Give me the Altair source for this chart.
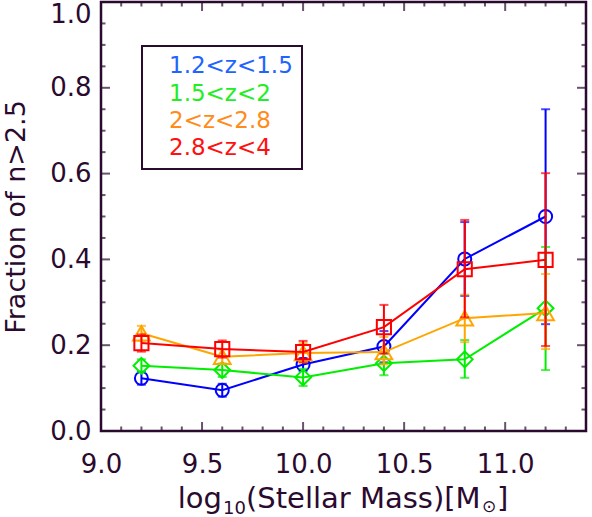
import altair as alt
import pandas as pd

# ---- data ----
mass = [9.2, 9.6, 10.0, 10.4, 10.8, 11.2]
labels = ["1.2<z<1.5", "1.5<z<2", "2<z<2.8", "2.8<z<4"]

frac_a = [0.123, 0.095, 0.155, 0.197, 0.401, 0.500]
lo_a = [0.108, 0.080, 0.140, 0.160, 0.315, 0.249]
hi_a = [0.138, 0.110, 0.170, 0.233, 0.487, 0.750]

frac_b = [0.152, 0.142, 0.125, 0.158, 0.167, 0.286]
lo_b = [0.137, 0.126, 0.105, 0.130, 0.124, 0.142]
hi_b = [0.167, 0.157, 0.145, 0.183, 0.212, 0.429]

frac_c = [0.228, 0.173, 0.182, 0.184, 0.263, 0.275]
lo_c = [0.210, 0.157, 0.160, 0.155, 0.207, 0.191]
hi_c = [0.245, 0.190, 0.205, 0.219, 0.318, 0.366]

frac_d = [0.205, 0.191, 0.184, 0.242, 0.377, 0.399]
lo_d = [0.185, 0.171, 0.160, 0.180, 0.265, 0.198]
hi_d = [0.225, 0.211, 0.210, 0.294, 0.492, 0.601]

x_major = [9.0, 9.5, 10.0, 10.5, 11.0]
x_minor = [9.1, 9.2, 9.3, 9.4, 9.6, 9.7, 9.8, 9.9, 10.1, 10.2, 10.3, 10.4,
           10.6, 10.7, 10.8, 10.9, 11.1, 11.2, 11.3]
y_major = [0.0, 0.2, 0.4, 0.6, 0.8, 1.0]
y_minor = [0.05, 0.1, 0.15, 0.25, 0.3, 0.35, 0.45, 0.5, 0.55, 0.65, 0.7,
           0.75, 0.85, 0.9, 0.95]

x_title_parts = ["log", "10", "(Stellar Mass)[M", "⊙", "]"]
y_title = "Fraction of n>2.5"

# ---- styles ----
FRAME = "#2a0a2e"
FONT = "DejaVu Sans"
mark_colors = ["#0000ff", "#00ee00", "#ffa500", "#ff0000"]
text_colors = ["#1e64ff", "#22ee22", "#ff8c1a", "#ff1010"]
shapes = ["circle", "diamond", "triangle-up", "square"]
sizes = [170, 250, 280, 200]

xs = alt.Scale(domain=[9.0, 11.4], nice=False, zero=False)
ys = alt.Scale(domain=[0.0, 1.0], nice=False, zero=False)

series = [
    (frac_a, lo_a, hi_a),
    (frac_b, lo_b, hi_b),
    (frac_c, lo_c, hi_c),
    (frac_d, lo_d, hi_d),
]

layers = []

# axes carrier (labels + y title)
axis_df = pd.DataFrame({"m": mass, "f": frac_a})
base_axes = alt.Chart(axis_df).mark_point(opacity=0).encode(
    x=alt.X("m:Q", scale=xs,
            axis=alt.Axis(values=x_major, format=".1f", grid=False, domain=False,
                          ticks=False, tickSize=0, labelFontSize=26, labelFont=FONT,
                          labelColor=FRAME, labelPadding=20, title=None,
                          labelFlush=False)),
    y=alt.Y("f:Q", scale=ys,
            axis=alt.Axis(values=y_major, format=".1f", grid=False, domain=False,
                          ticks=False, tickSize=0, labelFontSize=26, labelFont=FONT,
                          labelColor=FRAME, labelPadding=10, title=y_title,
                          labelOffset=alt.condition("datum.value == 1",
                                                    alt.value(12), alt.value(0)),
                          titleFont=FONT, titleFontSize=27, titleFontWeight="normal",
                          titleColor=FRAME, titlePadding=19, labelFlush=False)),
)
layers.append(base_axes)

for i, (fr, lo, hi) in enumerate(series):
    df = pd.DataFrame({"m": mass, "f": fr, "lo": lo, "hi": hi})
    c = mark_colors[i]
    ch = alt.Chart(df)
    layers.append(ch.mark_line(strokeWidth=2, color=c).encode(
        x=alt.X("m:Q", scale=xs), y=alt.Y("f:Q", scale=ys)))
    layers.append(ch.mark_rule(strokeWidth=2, color=c).encode(
        x=alt.X("m:Q", scale=xs), y=alt.Y("lo:Q", scale=ys), y2="hi:Q"))
    layers.append(ch.mark_tick(orient="horizontal", size=9, thickness=2, color=c).encode(
        x=alt.X("m:Q", scale=xs), y=alt.Y("lo:Q", scale=ys)))
    layers.append(ch.mark_tick(orient="horizontal", size=9, thickness=2, color=c).encode(
        x=alt.X("m:Q", scale=xs), y=alt.Y("hi:Q", scale=ys)))
    layers.append(ch.mark_point(shape=shapes[i], size=sizes[i], filled=False,
                                strokeWidth=2, color=c, opacity=1).encode(
        x=alt.X("m:Q", scale=xs), y=alt.Y("f:Q", scale=ys)))

# inward ticks on all four sides
xmaj = pd.DataFrame({"v": x_major})
xmin = pd.DataFrame({"v": x_minor})
ymaj = pd.DataFrame({"v": y_major})
ymin = pd.DataFrame({"v": y_minor})
for d, L in ((xmaj, 18), (xmin, 9)):
    for yv in (0.0, 1.0):
        layers.append(alt.Chart(d).mark_tick(orient="vertical", size=L, thickness=2,
                                             color=FRAME, clip=True).encode(
            x=alt.X("v:Q", scale=xs), y=alt.datum(yv, scale=ys)))
for d, L in ((ymaj, 18), (ymin, 9)):
    for xv in (9.0, 11.4):
        layers.append(alt.Chart(d).mark_tick(orient="horizontal", size=L, thickness=2,
                                             color=FRAME, clip=True).encode(
            y=alt.Y("v:Q", scale=ys), x=alt.datum(xv, scale=xs)))

# legend box
box_df = pd.DataFrame({"k": [0]})
layers.append(alt.Chart(box_df).mark_rect(fill="white", stroke=FRAME, strokeWidth=2).encode(
    x=alt.value(41), x2=alt.value(201), y=alt.value(44), y2=alt.value(167)))
leg_y = [64, 92, 119, 146]
for i, lab in enumerate(labels):
    layers.append(alt.Chart(pd.DataFrame({"t": [lab]})).mark_text(
        align="left", baseline="middle", font=FONT, fontSize=23, color=text_colors[i]).encode(
        x=alt.value(68), y=alt.value(leg_y[i]), text="t:N"))

# x-axis title with subscripts, built from pieces
part_pos = [  # (align, x, y, fontSize)
    ("right", 121, 506, 29),
    ("left", 122, 512, 18),
    ("left", 145, 506, 29),
    ("left", 381, 510, 17),
    ("left", 396, 506, 29),
]
for txt, (al, px, py, fs) in zip(x_title_parts, part_pos):
    layers.append(alt.Chart(pd.DataFrame({"t": [txt]})).mark_text(
        align=al, baseline="alphabetic", font=FONT, fontSize=fs, color=FRAME).encode(
        x=alt.value(px), y=alt.value(py), text="t:N"))

chart = alt.layer(*layers).properties(
    width=485, height=429,
    autosize=alt.AutoSizeParams(type="none"),
    padding={"left": 101, "top": 2, "right": 6, "bottom": 86},
    background="white",
).configure_view(stroke=FRAME, strokeWidth=2.5)

chart.save("out.html", embed_options={"renderer": "svg", "actions": False})
